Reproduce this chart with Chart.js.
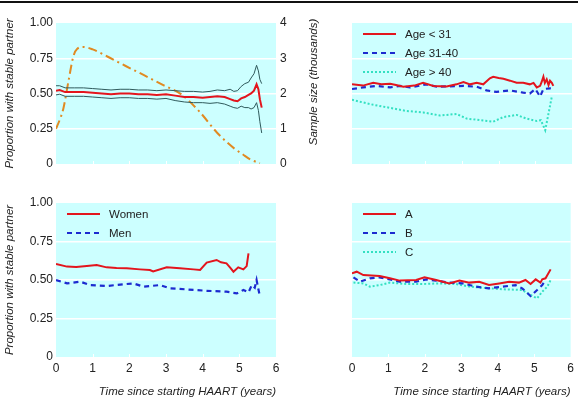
<!DOCTYPE html>
<html>
<head>
<meta charset="utf-8">
<script src="https://cdn.jsdelivr.net/npm/chart.js@4.4.0/dist/chart.umd.min.js"></script>
<style>
  body { margin: 0; background: #fff; width: 578px; height: 400px; overflow: hidden; position: relative; }
  .rule { position: absolute; left: 0; top: 1px; width: 578px; height: 2px; background: #111; }
  canvas { position: absolute; }
</style>
</head>
<body>
<div class="rule"></div>
<canvas id="overall" width="330" height="190" style="left:0;top:0"></canvas>
<canvas id="age" width="248" height="190" style="left:330px;top:0"></canvas>
<canvas id="sex" width="330" height="210" style="left:0;top:190px"></canvas>
<canvas id="group" width="248" height="210" style="left:330px;top:190px"></canvas>
<script>
// values (x = years since starting HAART)
const overallYears = [0, 0.1, 0.25, 0.5, 0.75, 1.0, 1.25, 1.5, 1.75, 2.0, 2.25, 2.5, 2.75, 3.0, 3.25, 3.5, 3.75, 4.0, 4.2, 4.4, 4.6, 4.75, 4.85, 4.95, 5.05, 5.15, 5.25, 5.32, 5.4, 5.47, 5.52, 5.56, 5.61];
const overallEstimate = [0.52, 0.525, 0.51, 0.51, 0.51, 0.505, 0.50, 0.495, 0.50, 0.50, 0.495, 0.495, 0.49, 0.495, 0.485, 0.475, 0.475, 0.47, 0.475, 0.48, 0.475, 0.46, 0.45, 0.445, 0.465, 0.475, 0.49, 0.50, 0.52, 0.565, 0.53, 0.46, 0.40];
const overallUpper = [0.555, 0.555, 0.54, 0.54, 0.54, 0.535, 0.53, 0.525, 0.53, 0.53, 0.525, 0.525, 0.52, 0.525, 0.52, 0.515, 0.515, 0.51, 0.515, 0.525, 0.52, 0.53, 0.515, 0.52, 0.55, 0.57, 0.58, 0.61, 0.64, 0.70, 0.66, 0.60, 0.57];
const overallLower = [0.49, 0.495, 0.48, 0.48, 0.48, 0.475, 0.47, 0.465, 0.47, 0.47, 0.465, 0.465, 0.46, 0.465, 0.45, 0.44, 0.435, 0.435, 0.43, 0.435, 0.425, 0.41, 0.40, 0.395, 0.41, 0.40, 0.40, 0.39, 0.40, 0.435, 0.38, 0.30, 0.22];

const sampleYears = [0, 0.1, 0.2, 0.34, 0.47, 0.58, 0.75, 1.0, 1.4, 1.9, 2.4, 2.9, 3.4, 3.9, 4.4, 4.85, 5.1, 5.3, 5.56];
const sampleSize = [1.0, 1.25, 1.57, 2.35, 3.04, 3.27, 3.32, 3.25, 3.05, 2.78, 2.52, 2.25, 1.99, 1.5, 0.88, 0.45, 0.27, 0.13, 0.02];

const ageYoungYears = [0, 0.3, 0.58, 0.8, 1.04, 1.2, 1.4, 1.7, 1.94, 2.22, 2.58, 2.85, 3.04, 3.22, 3.4, 3.58, 3.76, 3.85, 4.0, 4.13, 4.31, 4.49, 4.67, 4.85, 4.95, 5.04, 5.13, 5.17, 5.22, 5.26, 5.31, 5.36, 5.4, 5.45, 5.49];
const ageYoung = [0.565, 0.556, 0.576, 0.565, 0.569, 0.56, 0.548, 0.556, 0.576, 0.554, 0.55, 0.565, 0.582, 0.565, 0.576, 0.565, 0.608, 0.619, 0.61, 0.604, 0.591, 0.576, 0.576, 0.565, 0.575, 0.543, 0.554, 0.58, 0.619, 0.575, 0.60, 0.56, 0.59, 0.575, 0.554];
const ageMidYears = [0, 0.3, 0.66, 1.04, 1.31, 1.58, 2.03, 2.31, 2.58, 3.04, 3.4, 3.67, 3.94, 4.31, 4.67, 4.85, 5.0, 5.13, 5.22, 5.4, 5.49];
const ageMid = [0.532, 0.543, 0.554, 0.543, 0.554, 0.543, 0.565, 0.548, 0.55, 0.554, 0.548, 0.522, 0.511, 0.522, 0.506, 0.5, 0.532, 0.478, 0.532, 0.537, 0.532];
const ageOldYears = [0, 0.58, 1.04, 1.49, 1.94, 2.4, 2.85, 3.13, 3.49, 3.85, 4.13, 4.49, 4.76, 5.04, 5.15, 5.27, 5.45];
const ageOld = [0.455, 0.42, 0.398, 0.376, 0.366, 0.344, 0.355, 0.322, 0.311, 0.30, 0.333, 0.348, 0.322, 0.305, 0.311, 0.24, 0.478];

const womenYears = [0, 0.3, 0.55, 0.84, 1.11, 1.38, 1.65, 1.93, 2.29, 2.56, 2.65, 3.02, 3.38, 3.75, 3.93, 4.11, 4.38, 4.5, 4.65, 4.75, 4.84, 4.97, 5.11, 5.2, 5.25];
const women = [0.604, 0.587, 0.585, 0.591, 0.597, 0.582, 0.578, 0.576, 0.569, 0.565, 0.555, 0.582, 0.576, 0.569, 0.565, 0.613, 0.63, 0.615, 0.608, 0.58, 0.554, 0.582, 0.569, 0.59, 0.673];
const menYears = [0, 0.3, 0.66, 0.93, 1.38, 1.75, 2.11, 2.38, 2.84, 3.11, 3.56, 4.11, 4.65, 4.93, 5.11, 5.25, 5.34, 5.42, 5.47, 5.52, 5.56];
const men = [0.50, 0.478, 0.489, 0.467, 0.461, 0.47, 0.478, 0.457, 0.467, 0.446, 0.439, 0.43, 0.424, 0.413, 0.435, 0.42, 0.467, 0.45, 0.50, 0.44, 0.396];

const groupAYears = [0, 0.13, 0.31, 0.76, 1.04, 1.31, 1.76, 1.99, 2.31, 2.67, 2.95, 3.22, 3.49, 3.76, 4.04, 4.31, 4.58, 4.76, 4.9, 5.04, 5.17, 5.22, 5.31, 5.45];
const groupA = [0.543, 0.554, 0.532, 0.526, 0.511, 0.496, 0.50, 0.517, 0.50, 0.478, 0.496, 0.483, 0.489, 0.468, 0.478, 0.489, 0.483, 0.50, 0.474, 0.504, 0.483, 0.504, 0.511, 0.569];
const groupBYears = [0.04, 0.22, 0.49, 0.76, 1.04, 1.31, 1.76, 2.04, 2.31, 2.67, 3.04, 3.4, 3.76, 4.13, 4.49, 4.67, 4.9, 5.08, 5.22, 5.31];
const groupB = [0.517, 0.489, 0.511, 0.517, 0.504, 0.489, 0.489, 0.504, 0.496, 0.483, 0.478, 0.457, 0.446, 0.457, 0.467, 0.446, 0.396, 0.435, 0.467, 0.50];
const groupCYears = [0.04, 0.31, 0.49, 0.76, 1.04, 1.49, 1.94, 2.4, 2.85, 3.22, 3.76, 4.22, 4.67, 4.95, 5.08, 5.22, 5.36, 5.45];
const groupC = [0.483, 0.478, 0.457, 0.467, 0.483, 0.474, 0.474, 0.478, 0.474, 0.457, 0.446, 0.439, 0.435, 0.396, 0.381, 0.424, 0.457, 0.50];

const proportionTicks = ['0', '0.25', '0.50', '0.75', '1.00'];
const sizeTicks = ['0', '1', '2', '3', '4'];

const FONT = '"Liberation Sans", Arial, sans-serif';
const RED = '#e3151d';
const BLUE = '#1d2bd0';
const AQUA = '#34e0c2';
const ORANGE = '#e08a22';
const CI = '#2f5a5c';
const PANEL_BG = '#ccffff';

Chart.defaults.font.family = FONT;
Chart.defaults.font.size = 11.5;
Chart.defaults.color = '#222';

function toPoints(xs, ys) {
    return xs.map((x, i) => ({ x: x, y: ys[i] }));
}

function line(label, xs, ys, color, dash, width) {
    return {
        label: label,
        data: toPoints(xs, ys),
        borderColor: color,
        borderDash: dash,
        borderWidth: width,
        pointRadius: 0,
        fill: false,
        tension: 0
    };
}

// cyan plot background plus the little white tick marks at the bottom
const panelBackground = {
    id: 'panelBackground',
    beforeDraw(chart) {
        const { ctx, chartArea: a, scales } = chart;
        ctx.save();
        ctx.fillStyle = PANEL_BG;
        ctx.fillRect(a.left, a.top, a.right - a.left, a.bottom - a.top);
        ctx.strokeStyle = '#fff';
        ctx.lineWidth = 1;
        for (let t = 1; t < 6; t++) {
            const px = Math.round(scales.x.getPixelForValue(t)) + 0.5;
            ctx.beginPath();
            ctx.moveTo(px, a.bottom);
            ctx.lineTo(px, a.bottom - 3);
            ctx.stroke();
        }
        ctx.restore();
    }
};

// legend drawn inside the plot, top left
const panelLegend = {
    id: 'panelLegend',
    afterDraw(chart) {
        const { ctx, chartArea: a } = chart;
        const names = chart.options.plugins.panelLegend.names;
        if (!names) return;
        ctx.save();
        names.forEach((name, i) => {
            const ds = chart.data.datasets[i];
            const y = Math.round(a.top + 10.5 + i * 19);
            ctx.strokeStyle = ds.borderColor;
            ctx.lineWidth = ds.borderWidth;
            ctx.setLineDash(ds.borderDash || []);
            ctx.beginPath();
            ctx.moveTo(a.left + 11, y);
            ctx.lineTo(a.left + 44, y);
            ctx.stroke();
            ctx.setLineDash([]);
            ctx.fillStyle = '#222';
            ctx.font = '11.5px ' + FONT;
            ctx.textBaseline = 'middle';
            ctx.fillText(name, a.left + 53, y + 0.5);
        });
        ctx.restore();
    }
};

// right-hand axis title, reads bottom to top
const sizeTitle = {
    id: 'sizeTitle',
    afterDraw(chart) {
        const opts = chart.options.plugins.sizeTitle;
        if (!opts || !opts.text) return;
        const { ctx } = chart;
        ctx.save();
        ctx.translate(opts.x, opts.y);
        ctx.rotate(-Math.PI / 2);
        ctx.font = 'italic 11.5px ' + FONT;
        ctx.fillStyle = '#222';
        ctx.textAlign = 'center';
        ctx.textBaseline = 'middle';
        ctx.fillText(opts.text, 0, 0);
        ctx.restore();
    }
};

function makePanel(id, datasets, cfg) {
    const canvas = document.getElementById(id);
    const W = canvas.width, H = canvas.height;
    const scales = {
        x: {
            type: 'linear',
            min: 0,
            max: 6,
            display: cfg.showX,
            grid: { display: false, drawTicks: false },
            border: { display: false },
            ticks: { stepSize: 1, padding: 4, font: { size: 12 } },
            title: {
                display: cfg.showX,
                text: 'Time since starting HAART (years)',
                align: 'end',
                font: { style: 'italic', size: 11.5 },
                padding: { top: 0, bottom: 1 }
            },
            afterFit: s => { s.height = H - cfg.bottom; }
        },
        y: {
            min: 0,
            max: 1,
            ticks: {
                display: cfg.showY,
                stepSize: 0.25,
                padding: 3,
                font: { size: 12 },
                callback: (v, i) => proportionTicks[i]
            },
            grid: {
                drawTicks: false,
                lineWidth: 1.5,
                color: c => (c.tick && c.tick.value > 0 && c.tick.value < 1) ? '#ffffff' : 'rgba(0,0,0,0)'
            },
            border: { display: false },
            title: {
                display: cfg.showY,
                text: 'Proportion with stable partner',
                font: { style: 'italic', size: 11.5 },
                padding: { top: 3, bottom: 0 }
            },
            afterFit: s => { s.width = cfg.left; }
        }
    };
    let rightPad = W - cfg.right;
    if (cfg.sizeAxis) {
        scales.y2 = {
            position: 'right',
            min: 0,
            max: 4,
            ticks: { stepSize: 1, padding: 4, font: { size: 12 }, callback: (v, i) => sizeTicks[i] },
            grid: { drawOnChartArea: false, drawTicks: false },
            border: { display: false },
            afterFit: s => { s.width = W - cfg.right; }
        };
        rightPad = 0;
    }
    return new Chart(canvas, {
        type: 'line',
        data: { datasets: datasets },
        options: {
            responsive: false,
            animation: false,
            layout: { padding: { top: cfg.top, right: rightPad, left: 0, bottom: cfg.showX ? 0 : H - cfg.bottom } },
            scales: scales,
            plugins: {
                legend: { display: false },
                tooltip: { enabled: false },
                panelLegend: { names: cfg.legend },
                sizeTitle: cfg.sizeTitle || {}
            }
        },
        plugins: [panelBackground, panelLegend, sizeTitle]
    });
}

const orangeLine = line('Sample size', sampleYears, sampleSize, ORANGE, [9, 4, 2, 4], 2);
orangeLine.yAxisID = 'y2';
orangeLine.cubicInterpolationMode = 'monotone';

makePanel('overall', [
    line('Estimate', overallYears, overallEstimate, RED, [], 2),
    line('Upper', overallYears, overallUpper, CI, [], 1),
    line('Lower', overallYears, overallLower, CI, [], 1),
    orangeLine
], { left: 56, right: 276, top: 23, bottom: 177, showX: false, showY: true, sizeAxis: true,
     sizeTitle: { text: 'Sample size (thousands)', x: 314, y: 82 } });

makePanel('age', [
    line('Age < 31', ageYoungYears, ageYoung, RED, [], 2),
    line('Age 31-40', ageMidYears, ageMid, BLUE, [5, 4], 2.2),
    line('Age > 40', ageOldYears, ageOld, AQUA, [2, 2], 2)
], { left: 22, right: 242, top: 23, bottom: 177, showX: false, showY: false,
     legend: ['Age < 31', 'Age 31-40', 'Age > 40'] });

makePanel('sex', [
    line('Women', womenYears, women, RED, [], 2),
    line('Men', menYears, men, BLUE, [5, 4], 2.2)
], { left: 56, right: 276, top: 13, bottom: 167, showX: true, showY: true,
     legend: ['Women', 'Men'] });

makePanel('group', [
    line('A', groupAYears, groupA, RED, [], 2),
    line('B', groupBYears, groupB, BLUE, [5, 4], 2.2),
    line('C', groupCYears, groupC, AQUA, [2, 2], 2)
], { left: 22, right: 242, top: 13, bottom: 167, showX: true, showY: false,
     legend: ['A', 'B', 'C'] });
</script>
</body>
</html>
